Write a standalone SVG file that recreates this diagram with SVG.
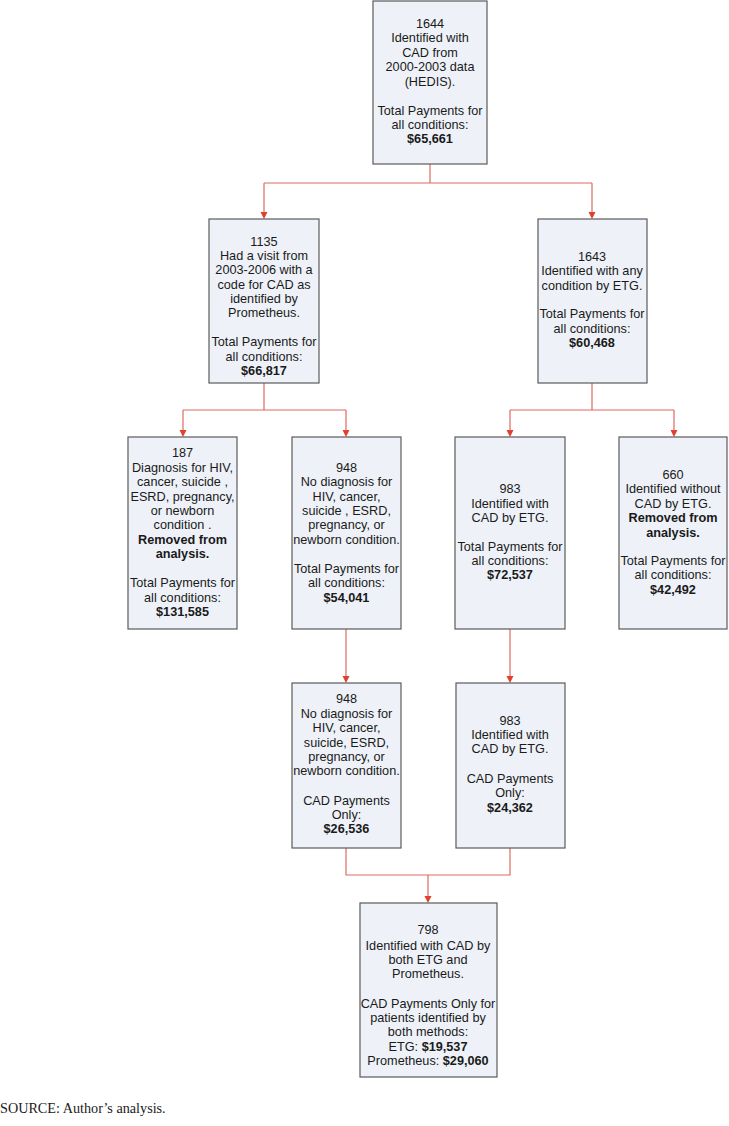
<svg xmlns="http://www.w3.org/2000/svg" width="729" height="1126" viewBox="0 0 729 1126">
<style>
.box{fill:#eef2f8;stroke:#5a5a5a;stroke-width:1.2}
.t{font-family:"Liberation Sans",Arial,sans-serif;font-size:12.7px;fill:#1a1a1a;text-anchor:middle}
.b{font-weight:bold}
.ln{fill:none;stroke:#e06a60;stroke-width:1.2}
.src{font-family:"Liberation Serif","Times New Roman",serif;font-size:14.2px;fill:#1a1a1a}
</style>
<rect width="729" height="1126" fill="#ffffff"/>
<g id="connectors">
<path class="ln" d="M430,164 V183 M264,183 H592"/>
<polyline class="ln" points="264,183 264,212"/>
<polyline class="ln" points="592,183 592,212"/>
<path class="ln" d="M264,383 V410 M183,410 H346 M592,383 V410 M510,410 H674"/>
<polyline class="ln" points="183,410 183,430"/>
<polyline class="ln" points="346,410 346,430"/>
<polyline class="ln" points="510,410 510,430"/>
<polyline class="ln" points="674,410 674,430"/>
<polyline class="ln" points="346,629 346,676"/>
<polyline class="ln" points="510,629 510,676"/>
<path class="ln" d="M346,848 V875 H510 V848 M428,875 V896"/>
<g fill="#e0402e">
<path d="M260.5,212 L267.5,212 L264,219 Z"/>
<path d="M588.5,212 L595.5,212 L592,219 Z"/>
<path d="M179.5,430 L186.5,430 L183,437 Z"/>
<path d="M342.5,430 L349.5,430 L346,437 Z"/>
<path d="M506.5,430 L513.5,430 L510,437 Z"/>
<path d="M670.5,430 L677.5,430 L674,437 Z"/>
<path d="M342.5,676 L349.5,676 L346,683 Z"/>
<path d="M506.5,676 L513.5,676 L510,683 Z"/>
<path d="M424.5,896 L431.5,896 L428,903 Z"/>
</g>
</g>
<g id="n1644">
<rect class="box" x="373" y="1" width="114" height="163"/>
<text class="t"><tspan x="430" y="28">1644</tspan><tspan x="430" y="42.4">Identified with</tspan><tspan x="430" y="56.8">CAD from</tspan><tspan x="430" y="71.2">2000-2003 data</tspan><tspan x="430" y="85.6">(HEDIS).</tspan><tspan x="430" y="114.6">Total Payments for</tspan><tspan x="430" y="129">all conditions:</tspan><tspan x="430" y="143.4" class="b">$65,661</tspan></text>
</g>
<g id="n1135">
<rect class="box" x="209" y="219" width="110" height="164"/>
<text class="t"><tspan x="264" y="245.6">1135</tspan><tspan x="264" y="260">Had a visit from</tspan><tspan x="264" y="274.4">2003-2006 with a</tspan><tspan x="264" y="288.8">code for CAD as</tspan><tspan x="264" y="303.2">identified by</tspan><tspan x="264" y="317.2">Prometheus.</tspan><tspan x="264" y="346">Total Payments for</tspan><tspan x="264" y="360.6">all conditions:</tspan><tspan x="264" y="375" class="b">$66,817</tspan></text>
</g>
<g id="n1643">
<rect class="box" x="538" y="219" width="109" height="164"/>
<text class="t"><tspan x="592" y="260.7">1643</tspan><tspan x="592" y="275.2">Identified with any</tspan><tspan x="592" y="289.8">condition by ETG.</tspan><tspan x="592" y="318">Total Payments for</tspan><tspan x="592" y="332.6">all conditions:</tspan><tspan x="592" y="346.8" class="b">$60,468</tspan></text>
</g>
<g id="n187">
<rect class="box" x="128" y="437" width="109" height="192"/>
<text class="t"><tspan x="182.5" y="457.3">187</tspan><tspan x="182.5" y="471.7">Diagnosis for HIV,</tspan><tspan x="182.5" y="486">cancer, suicide ,</tspan><tspan x="182.5" y="500.6">ESRD, pregnancy,</tspan><tspan x="182.5" y="515">or newborn</tspan><tspan x="182.5" y="529.3">condition .</tspan><tspan x="182.5" y="543.5" class="b">Removed from</tspan><tspan x="182.5" y="558" class="b">analysis.</tspan><tspan x="182.5" y="587.3">Total Payments for</tspan><tspan x="182.5" y="601.7">all conditions:</tspan><tspan x="182.5" y="616" class="b">$131,585</tspan></text>
</g>
<g id="n948a">
<rect class="box" x="292" y="437" width="109" height="192"/>
<text class="t"><tspan x="346.5" y="471.7">948</tspan><tspan x="346.5" y="486">No diagnosis for</tspan><tspan x="346.5" y="500.6">HIV, cancer,</tspan><tspan x="346.5" y="515">suicide , ESRD,</tspan><tspan x="346.5" y="529.3">pregnancy, or</tspan><tspan x="346.5" y="543.5">newborn condition.</tspan><tspan x="346.5" y="572.7">Total Payments for</tspan><tspan x="346.5" y="587.3">all conditions:</tspan><tspan x="346.5" y="601.7" class="b">$54,041</tspan></text>
</g>
<g id="n983a">
<rect class="box" x="455" y="437" width="110" height="192"/>
<text class="t"><tspan x="510" y="493.3">983</tspan><tspan x="510" y="507.7">Identified with</tspan><tspan x="510" y="522">CAD by ETG.</tspan><tspan x="510" y="550.7">Total Payments for</tspan><tspan x="510" y="565">all conditions:</tspan><tspan x="510" y="579.3" class="b">$72,537</tspan></text>
</g>
<g id="n660">
<rect class="box" x="619" y="437" width="108" height="192"/>
<text class="t"><tspan x="673" y="479">660</tspan><tspan x="673" y="493.3">Identified without</tspan><tspan x="673" y="507.7">CAD by ETG.</tspan><tspan x="673" y="522.2" class="b">Removed from</tspan><tspan x="673" y="536.7" class="b">analysis.</tspan><tspan x="673" y="565">Total Payments for</tspan><tspan x="673" y="579.3">all conditions:</tspan><tspan x="673" y="594" class="b">$42,492</tspan></text>
</g>
<g id="n948b">
<rect class="box" x="292" y="683" width="109" height="165"/>
<text class="t"><tspan x="346.5" y="703.3">948</tspan><tspan x="346.5" y="717.7">No diagnosis for</tspan><tspan x="346.5" y="732.2">HIV, cancer,</tspan><tspan x="346.5" y="746.6">suicide, ESRD,</tspan><tspan x="346.5" y="761">pregnancy, or</tspan><tspan x="346.5" y="775">newborn condition.</tspan><tspan x="346.5" y="805">CAD Payments</tspan><tspan x="346.5" y="819.3">Only:</tspan><tspan x="346.5" y="833.3" class="b">$26,536</tspan></text>
</g>
<g id="n983b">
<rect class="box" x="456" y="683" width="109" height="165"/>
<text class="t"><tspan x="510" y="725">983</tspan><tspan x="510" y="739.3">Identified with</tspan><tspan x="510" y="753.3">CAD by ETG.</tspan><tspan x="510" y="782.7">CAD Payments</tspan><tspan x="510" y="797.2">Only:</tspan><tspan x="510" y="811.6" class="b">$24,362</tspan></text>
</g>
<g id="n798">
<rect class="box" x="360" y="903" width="137" height="174"/>
<text class="t"><tspan x="428" y="934.3">798</tspan><tspan x="428" y="949.8">Identified with CAD by</tspan><tspan x="428" y="964">both ETG and</tspan><tspan x="428" y="978.3">Prometheus.</tspan><tspan x="428" y="1007.7">CAD Payments Only for</tspan><tspan x="428" y="1022">patients identified by</tspan><tspan x="428" y="1036.2">both methods:</tspan><tspan x="428" y="1050.7">ETG: <tspan class="b">$19,537</tspan></tspan><tspan x="428" y="1065">Prometheus: <tspan class="b">$29,060</tspan></tspan></text>
</g>
<text class="src" x="0" y="1113">SOURCE: Author’s analysis.</text>
</svg>
